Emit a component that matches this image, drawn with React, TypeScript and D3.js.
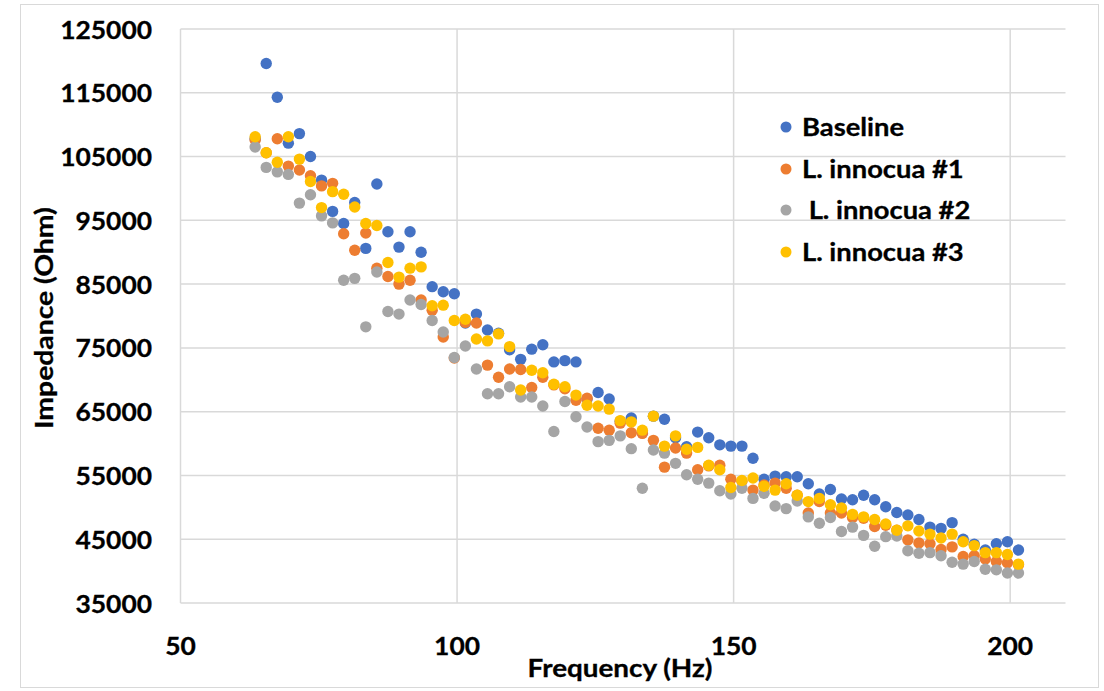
import React from "react";
import * as d3 from "d3";

const freq = [63.5,65.5,67.5,69.5,71.5,73.5,75.5,77.5,79.5,81.5,83.5,85.5,87.5,89.5,91.5,93.5,95.5,97.5,99.5,101.5,103.5,105.5,107.5,109.5,111.5,113.5,115.5,117.5,119.5,121.5,123.5,125.5,127.5,129.5,131.5,133.5,135.5,137.5,139.5,141.5,143.5,145.5,147.5,149.5,151.5,153.5,155.5,157.5,159.5,161.5,163.5,165.5,167.5,169.5,171.5,173.5,175.5,177.5,179.5,181.5,183.5,185.5,187.5,189.5,191.5,193.5,195.5,197.5,199.5,201.5];

const baseline = [107800,119600,114300,107100,108600,105000,101300,96400,94500,97800,
90600,100700,93200,90800,93200,90000,84600,83800,83500,78900,
80300,77800,77300,74700,73200,74800,75500,72800,73000,72800,
67000,68000,67000,63500,64000,61700,64300,63800,60900,59500,
61800,60900,59800,59600,59600,57700,54400,54900,54800,54800,
53700,52100,52800,51300,51200,51900,51200,50100,49200,48800,
48100,46900,46700,47600,45000,44200,43300,44300,44600,43300];

const innocua1 = [107600,105600,107800,103500,102900,102000,100400,100800,92900,90300,
93000,87500,86200,85000,85600,82500,80900,76700,73400,79000,
78900,72300,70400,71700,71600,68800,70400,69200,68600,66800,
67100,62400,62100,63200,61700,61600,60500,56300,59300,58500,
55900,56500,56600,54400,54100,52700,53500,53800,53000,51900,
49100,50900,49100,49100,48400,48300,47000,47200,46400,44900,
44400,44300,43400,43800,42300,42400,41900,41500,41300,41000];

const innocua2 = [106500,103300,102600,102200,97700,99000,95700,94600,85600,85900,
78300,86900,80700,80300,82500,81800,79300,77500,73500,75300,
71700,67800,67800,68900,67300,67300,65900,61900,66600,64200,
62600,60300,60500,61200,59200,53000,59000,58500,56900,55100,
54400,53800,52600,52100,53000,51400,52200,50200,49800,51000,
48500,47500,48400,46200,46900,45600,43900,45400,45500,43200,
42800,42900,42400,41400,41100,41500,40300,40200,39700,39700];

const innocua3 = [108100,105600,104100,108100,104600,101100,97000,99500,99100,97100,
94500,94200,88400,86100,87500,87700,81600,81700,79300,79500,
76400,76100,77200,75200,68400,71500,71100,69300,68900,67600,
66000,65900,65400,63600,63400,62100,64300,59600,61200,59100,
59400,56600,55900,53100,54200,54600,53300,52700,53700,51900,
50900,51400,50400,49900,48900,48500,48100,47400,46400,47100,
46300,45800,45200,45800,44600,44000,42900,42900,42600,41100];

const seriesNames = ["Baseline", "L. innocua #1", " L. innocua #2", "L. innocua #3"];
const seriesValues = [baseline, innocua1, innocua2, innocua3];
const seriesColors = ["#4472C4", "#ED7D31", "#A5A5A5", "#FFC000"];

const xTicks = [50, 100, 150, 200];
const yTicks = [35000, 45000, 55000, 65000, 75000, 85000, 95000, 105000, 115000, 125000];

const W = 1104;
const H = 691;
const plot = { left: 180.5, right: 1065.5, top: 29, bottom: 603 };
const FONT = "Lato, 'Open Sans', sans-serif";

export default function App() {
  const x = d3.scaleLinear().domain([50, 210]).range([plot.left, plot.right]);
  const y = d3.scaleLinear().domain([35000, 125000]).range([plot.bottom, plot.top]);

  const txt = (
    key: string,
    tx: number,
    ty: number,
    s: string,
    anchor: "start" | "middle" | "end",
    size = 24,
    sx = 1.1,
    rotate = 0
  ) => (
    <text
      key={key}
      transform={`translate(${tx},${ty}) rotate(${rotate}) scale(${sx},1)`}
      textAnchor={anchor}
      dominantBaseline="central"
      fontFamily={FONT}
      fontWeight={700}
      fontSize={size}
      fill="#000"
      stroke="#000"
      strokeWidth={0.3}
      style={{ whiteSpace: "pre" }}
    >
      {s}
    </text>
  );

  const legendY = [127, 169, 210, 252];

  return (
    <svg
      width={W}
      height={H}
      style={{ position: "absolute", left: 0, top: 0, background: "#fff" }}
    >
      <rect x={0} y={0} width={W} height={H} fill="#fff" />
      <rect x={20.5} y={4.5} width={1078} height={683} fill="none" stroke="#d9d9d9" strokeWidth={1} />
      {yTicks.map((t) => (
        <line
          key={"gy" + t}
          x1={plot.left}
          x2={plot.right}
          y1={y(t)}
          y2={y(t)}
          stroke="#d9d9d9"
          strokeWidth={1.5}
        />
      ))}
      {xTicks.map((t) => (
        <line
          key={"gx" + t}
          x1={x(t)}
          x2={x(t)}
          y1={plot.top}
          y2={plot.bottom}
          stroke="#d9d9d9"
          strokeWidth={1.5}
        />
      ))}
      {seriesValues.map((vals, si) => (
        <g key={"s" + si} fill={seriesColors[si]}>
          {vals.map((v, i) => (
            <circle key={i} cx={x(freq[i])} cy={y(v)} r={5.7} />
          ))}
        </g>
      ))}
      {yTicks.map((t) => txt("yl" + t, 152, y(t), String(t), "end"))}
      {xTicks.map((t) => txt("xl" + t, x(t), 645, String(t), "middle"))}
      {txt("xt", 620, 668, "Frequency (Hz)", "middle", 24, 1.16)}
      {txt("yt", 44, 318, "Impedance (Ohm)", "middle", 24, 1.18, -90)}
      {seriesNames.map((n, i) => (
        <g key={"lg" + i}>
          <circle cx={786} cy={legendY[i]} r={5.5} fill={seriesColors[i]} />
          {txt("lt" + i, 802, legendY[i], n, "start", 24, 1.14)}
        </g>
      ))}
    </svg>
  );
}
